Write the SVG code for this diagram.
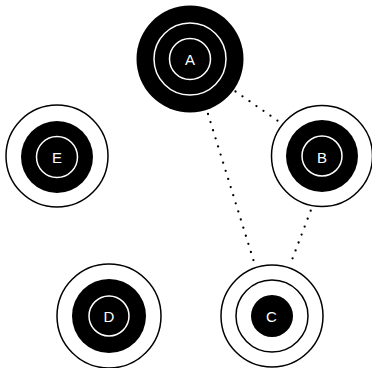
<svg xmlns="http://www.w3.org/2000/svg" width="372" height="368" viewBox="0 0 372 368">
<style>
.bg{fill:#fff}
.ring{fill:none;stroke:#000;stroke-width:1.5}
.wring{fill:none;stroke:#fff;stroke-width:1.5}
.disk{fill:#000}
.lbl{font-family:"Liberation Sans",Arial,sans-serif;font-size:15px;fill:#fff;text-anchor:middle;dominant-baseline:central}
.edge{fill:none;stroke:#000;stroke-width:2.3;stroke-linecap:round;stroke-dasharray:0 8.5}
</style>
<rect class="bg" x="0" y="0" width="372" height="368"/>
<g id="connectors">
<line class="edge" x1="235.5" y1="91.5" x2="279.5" y2="122"/>
<line class="edge" x1="208" y1="114" x2="254" y2="262"/>
<line class="edge" x1="310.7" y1="210.7" x2="291" y2="262.5"/>
</g>
<g id="node-A">
<circle class="disk" cx="190" cy="59" r="53.5"/>
<circle class="wring" cx="190" cy="59" r="36"/>
<circle class="wring" cx="190" cy="59" r="20.5"/>
<text class="lbl" x="190" y="59">A</text>
</g>
<g id="node-B">
<circle class="ring" cx="322" cy="156" r="50.5"/>
<circle class="disk" cx="322" cy="156" r="36"/>
<circle class="wring" cx="322" cy="156" r="20"/>
<text class="lbl" x="322" y="157">B</text>
</g>
<g id="node-C">
<circle class="ring" cx="272" cy="316" r="51"/>
<circle class="ring" cx="272" cy="316" r="36"/>
<circle class="disk" cx="272" cy="316" r="21"/>
<text class="lbl" x="271.5" y="316">C</text>
</g>
<g id="node-D">
<circle class="ring" cx="109" cy="316" r="52"/>
<circle class="disk" cx="109" cy="316" r="37"/>
<circle class="wring" cx="109" cy="316" r="20"/>
<text class="lbl" x="109" y="316">D</text>
</g>
<g id="node-E">
<circle class="ring" cx="57" cy="156" r="51"/>
<circle class="disk" cx="57" cy="157" r="36"/>
<circle class="wring" cx="57" cy="157" r="20.5"/>
<text class="lbl" x="57" y="157">E</text>
</g>
</svg>
